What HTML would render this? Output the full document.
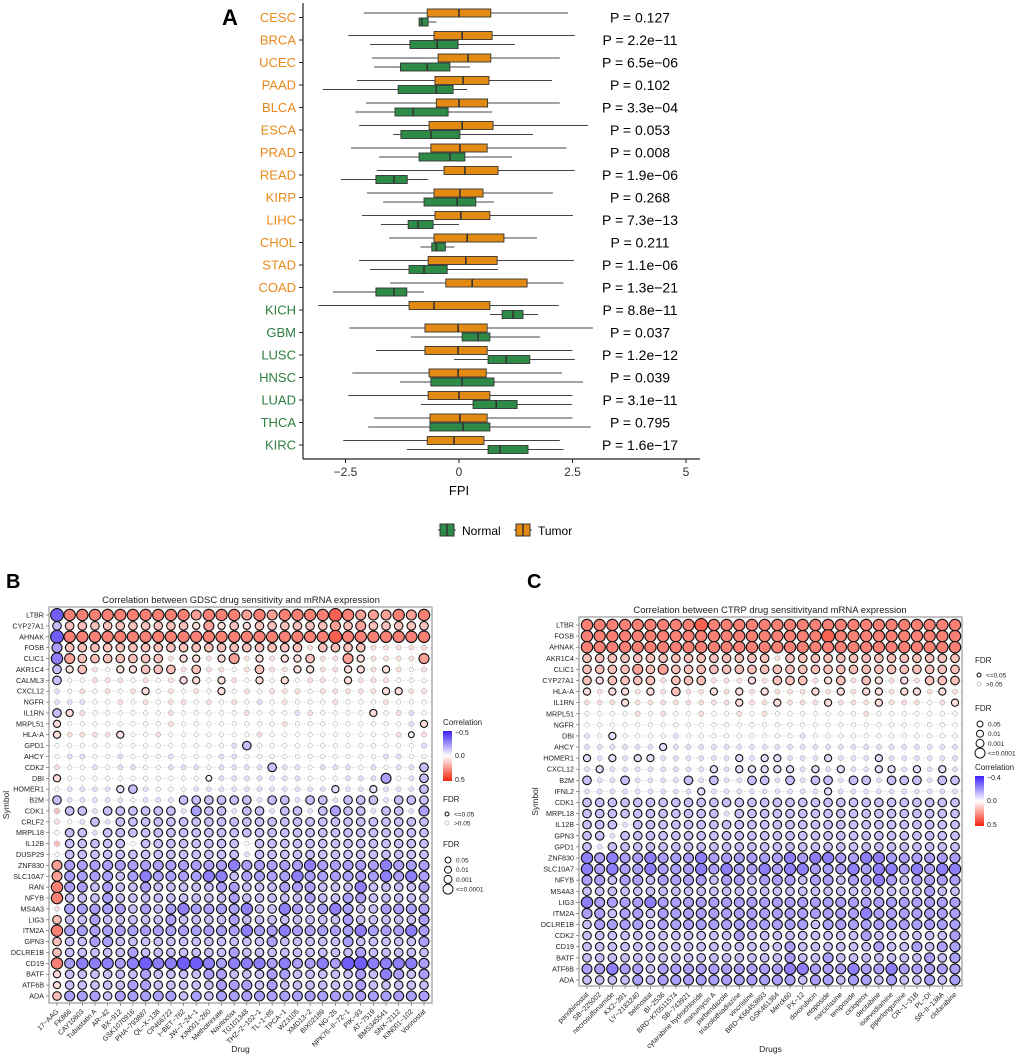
<!DOCTYPE html>
<html><head><meta charset="utf-8"><style>
body{margin:0;background:#fff;}
svg{display:block;font-family:"Liberation Sans",Arial,sans-serif;}
</style></head><body>
<svg id="fig" width="1020" height="1060" viewBox="0 0 1020 1060" xmlns="http://www.w3.org/2000/svg">
<g id="pa"></g>
<g id="pb"></g>
<g id="pc"></g>
</svg>
<script>
// ---------- Panel A data ----------
const cancers=["CESC","BRCA","UCEC","PAAD","BLCA","ESCA","PRAD","READ","KIRP","LIHC","CHOL","STAD","COAD","KICH","GBM","LUSC","HNSC","LUAD","THCA","KIRC"];
const pvals=["P = 0.127","P = 2.2e\u221211","P = 6.5e\u221206","P = 0.102","P = 3.3e\u221204","P = 0.053","P = 0.008","P = 1.9e\u221206","P = 0.268","P = 7.3e\u221213","P = 0.211","P = 1.1e\u221206","P = 1.3e\u221221","P = 8.8e\u221211","P = 0.037","P = 1.2e\u221212","P = 0.039","P = 3.1e\u221211","P = 0.795","P = 1.6e\u221217"];
const tumorStats=[[-2.1,-0.7,0,0.7,2.4],[-2.44,-0.55,0.07,0.73,2.55],[-1.92,-0.46,0.2,0.7,2.22],[-2.25,-0.53,0.09,0.66,2.05],[-2.05,-0.5,0,0.63,2.22],[-2.2,-0.66,0.07,0.75,2.84],[-2.38,-0.62,0.02,0.62,2.37],[-1.81,-0.33,0.13,0.86,2.55],[-2.03,-0.55,0.02,0.53,2.07],[-2.14,-0.53,0.04,0.68,2.51],[-1.54,-0.55,0.18,0.99,1.72],[-2.2,-0.68,0.15,0.84,2.53],[-1.52,-0.29,0.29,1.5,2.3],[-3.1,-1.1,-0.55,0.68,2.2],[-2.42,-0.75,-0.02,0.62,2.95],[-1.83,-0.75,-0.02,0.62,2.5],[-2.35,-0.66,-0.02,0.6,2.27],[-2.44,-0.68,0,0.68,2.5],[-1.87,-0.64,0.02,0.62,2.5],[-2.55,-0.7,-0.11,0.55,2.22]];
const normalStats=[[-0.88,-0.88,-0.82,-0.68,-0.5],[-1.96,-1.08,-0.48,-0.02,1.23],[-1.87,-1.29,-0.7,-0.2,0.24],[-3.0,-1.34,-0.5,-0.13,0.18],[-2.28,-1.41,-1.01,-0.24,0.73],[-1.45,-1.28,-0.62,0.02,1.63],[-1.76,-0.88,-0.2,0.13,1.17],[-2.6,-1.83,-1.43,-1.14,-0.68],[-1.67,-0.77,-0.04,0.37,0.77],[-1.72,-1.12,-0.9,-0.57,0],[-0.85,-0.6,-0.5,-0.3,-0.1],[-1.96,-1.1,-0.77,-0.26,0.86],[-2.78,-1.83,-1.43,-1.15,-0.77],[0.68,0.95,1.19,1.41,1.74],[-1.06,0.07,0.42,0.68,1.78],[-0.11,0.64,1.04,1.56,2.55],[-1.3,-0.62,0.07,0.77,2.73],[-0.84,0.31,0.82,1.28,2.49],[-2.0,-0.64,0.09,0.68,2.9],[-1.15,0.64,0.9,1.52,2.3]];
const xTicks=[-2.5,0,2.5,5];

// ---------- Panel B data ----------
const genesB=["LTBR","CYP27A1","AHNAK","FOSB","CLIC1","AKR1C4","CALML3","CXCL12","NGFR","IL1RN","MRPL51","HLA-A","GPD1","AHCY","CDK2","DBI","HOMER1","B2M","CDK1","CRLF2","MRPL18","IL12B","DUSP29","ZNF830","SLC10A7","RAN","NFYB","MS4A3","LIG3","ITM2A","GPN3","DCLRE1B","CD19","BATF","ATF6B","ADA"];
const drugsB=["17\u2212AAG","FK866","CAY10603","Tubastatin A","AR\u221242","BX\u2212912","GSK1070916","PHA\u2212793887","QL\u2212X\u2212138","CP466722","I\u2212BET\u2212762","JW\u22127\u221224\u22121","KIN001\u2212260","Methotrexate","Navitoclax","TG101348","THZ\u22122\u2212102\u22121","TL\u22121\u221285","TPCA\u22121","WZ3105","XMD13\u22122","BIX02189","NG\u221225","NPK76\u2212II\u221272\u22121","PIK\u221293","AT\u22127519","BMS345541","SNX\u22122112","KIN001\u2212102","Vorinostat"];
// letter a..k = correlation -0.5..0.5; uppercase = FDR<=0.05
const cellsB=[
"AJJJJJJJJJJIJJJIJIJJJJKJIIIJIJ","DHHHHHHHHHHGIGHGHHHHHHIHIHHHHH","AJJJJJJJJJJJJJJJJJJJJJKJJJJJJJ",
"CHHHHHHHHHHHHHHHHHHHgHHHHggggg","BIHHHHHHHgGGgGIgGgGGHggIGggggI","DGHgfGGHHHgHggfgHggGGggGGgGgfg",
"DffgggfgfgGGfGgfGfGfggfGgggfff","efgfgfgGfgfgfGfgfgggfgggggGGgg","eeeffgfgfggfgfgfefgfffgfffgfff",
"DGgffffffgfffffgfffegffffGfgef","GffffffffgffffffffgfffffffffeG","GggggGffgfffffffgffffffffffgFg",
"ffffffffffffffeDfffffffffffffe","feeffefffefffeefffffffffffeeff","gffefeeffeeefeeeeDeefeeefefeeD",
"GfffffffffffFeeeeeeefffeeeCfeD","feeeeEDefffeeeeeeeeeeeEeeEeeeD","DeeeeefeeeDDDDDDeDDeDDeDDDeDDD",
"hDDeDDDDDDeCDDeDDeDDeDCDDeDDeC","gfeDeDDDDDDDDDDDDDDDDDDDDDDDDD","fDDeDDDDDDDDDDDDDDDDDDDDDDDDDD",
"hDDDDDfDDDDDDDDfDDDDDDDDDDDDDD","fDDDDDDDDDDDDDDeDDDDDDDDDDDDDD","ICCCCCCCCCCCCCBCCCCCBCCCCCBCCC",
"ICCCCDCBCCCCBBDCCCCBCCCCCCBCBC","JCCDCDDCDDDDDCCDDDCCCDDDBDDDDC","JDDDCDDDDDDDDDCDDDDDCDDCCDDDDD",
"gCCCCCDCDCBCCCCBDDBCDCBCDDCCCC","HDDCDDDDDCDDDDCDDDDDDDDCDDDDDC","JCCCCCCCCCCCCCCBCCBCCCCCBCCCBC",
"HDDCCDDDDDDDDDDDDCDDDDDCDDDDDC","HDDDDDCDDDDDDDCDDDDDDDDDCDDDDD","JCBBBCBABBAABCBBBCBCCBCAABBBBC",
"GDDDDDDCDDDDCCDDDCCDDDDDCDBCDC","GDDDDDCCDDDDDCCCDCDDDDDDCDDDDD","HCCCDCCCCCDCDCCCCCCCCCCCCCCCCC"];

// ---------- Panel C data ----------
const genesC=["LTBR","FOSB","AHNAK","AKR1C4","CLIC1","CYP27A1","HLA-A","IL1RN","MRPL51","NGFR","DBI","AHCY","HOMER1","CXCL12","B2M","IFNL2","CDK1","MRPL18","IL12B","GPN3","GPD1","ZNF830","SLC10A7","NFYB","MS4A3","LIG3","ITM2A","DCLRE1B","CDK2","CD19","BATF","ATF6B","ADA"];
const drugsC=["panobinostat","SB\u2212225002","necrosulfonamide","KX2\u2212391","LY\u22122183240","belinostat","BI\u22122536","BRD\u2212K70511574","SB\u2212743921","cytarabine hydrochloride","manumycin A","parbendazole","triazolothiadiazine","vincristine","BRD\u2212K66453893","GSK461364","Merck60","PX\u221212","doxorubicin","etoposide","narciclasine","teniposide","ciclopirox","decitabine","isoevodiamine","piperlongumine","CR\u22121\u221231B","PL\u2212DI","SR\u2212II\u2212138A","clofarabine"];
const cellsC=[
"JJJJJJJJJKJJJJJJJJJJJJJJJJJJJJ","JJJJJJJJJJJJJJJJJJJKJJJJJJJJJJ","JJJJJJJJJJJJJJJJJJJJJJJJJJJJJJ",
"HHHHHHHHHHHHHHHgHHHHHHHHHHHHHH","HHHHIHIHHHHHHHHHHHHHHHHHHHHHHH","HGHHHHgHHHgggGgHHHgGHgHGgGgHHH",
"GgGGgGgHggGgGgGgggGgGgGGgGGgGg","gggGggggggggGggGgggGgggGgggfgG","ffffgfgffgffgfgfffffffgfffffff",
"ffffffffffffffffffffffffffffff","efEffffefffffffffeffffffffffff","eeeeeeEeeeeeeeeeeeeeeeeeeeeeee",
"EeEeEEeeeeeeEeEEeeeEeeeEeeeeee","eEeeeeeeeeEeEEEEEeEeEeeEEeEeEe","DeeDeeeeDeDeeDDeDeDDeDDeDDDeDD",
"eeeeeeeeeEeeeeeeeeeEeeeeeeeeee","DDDDDDDDDDDDDDDDDDDDDDDDDDDDDD","DDDDDDDDDDDeDDDDDDDDDDDDDDDDDD",
"DDDeDDDDDDDDDDDDDDDDDDDDDDDDDD","DDeDDDDDDDDDDDDDDDDDDDDDDDDDDD","DeDDDDDDDDDDDDDDDDDDDDDDDDDDDD",
"BCBCCBCCCBCCCCCCBCBBCCBBCCCCCC","BCBCCBCCCBCBCCBCBBCCCBCBBCBCBB","CCDCCDCCCCDCCDCCCDCCDCCBCDCCCC",
"DDDDDDDDDDDDDDDDDDDDDDDDDDDCDD","BCCCCBCCCCCCCCCCCCCCCCCCCCCCCC","CCDCCDCCCCCCCCCCCCCCCCBCCCCCCC",
"DCCCCDCCCCCCCCCCCCDCCCCCCCCCCC","DDDDDDDDDDDDCDDDDDDDDDCDDDDDDC","DDDDDDDDDDDDDDDDCDDDDDDCDDCDCC",
"DDDDDDDDDDDDDDDDCDDCDDDDDDDCDC","CCBCCDCCCCCCCCCCBBCCCBCCBCCCCC","DDDDCDCCCCCCCCCCCDCCDCCDCDDCDC"];

const NS="http://www.w3.org/2000/svg";
function mk(parent,tag,attrs,text){const e=document.createElementNS(NS,tag);for(const k in attrs)e.setAttribute(k,attrs[k]);if(text!==undefined)e.textContent=text;parent.appendChild(e);return e;}

// ---------- Panel A ----------
const pa=document.getElementById('pa');
const xA=v=>459+v*45.4;
const rowA=i=>17.5+i*22.5;
let t=mk(pa,'text',{x:222,y:25,'font-size':22,'font-weight':'bold'},"A");


let ax=mk(pa,'line',{x1:303,y1:3,x2:303,y2:459,stroke:'#222','stroke-width':1.2});


let bx=mk(pa,'line',{x1:303,y1:459,x2:700,y2:459,stroke:'#222','stroke-width':1.2});


function drawBox(s,cy,fill,name){
  const g=mk(pa,'g',{});
  
  
  mk(g,'line',{x1:xA(s[0]),x2:xA(s[1]),y1:cy,y2:cy,stroke:'#444','stroke-width':1});
  mk(g,'line',{x1:xA(s[3]),x2:xA(s[4]),y1:cy,y2:cy,stroke:'#444','stroke-width':1});
  mk(g,'rect',{x:xA(s[1]),y:cy-4,width:Math.max(1,xA(s[3])-xA(s[1])),height:8,fill:fill,stroke:'#333','stroke-width':0.9});
  mk(g,'line',{x1:xA(s[2]),x2:xA(s[2]),y1:cy-4,y2:cy+4,stroke:'#333','stroke-width':1.6});
}
cancers.forEach((c,i)=>{
  const cy=rowA(i);
  const lab=mk(pa,'text',{x:296,y:cy+4.5,'text-anchor':'end','font-size':13,fill:i<13?'#e8891c':'#2e8040'},c);
  
  
  mk(pa,'line',{x1:299,x2:303,y1:cy,y2:cy,stroke:'#222'});
  drawBox(tumorStats[i],cy-4.5,'#e38a12','tumor-box-'+c.toLowerCase());
  drawBox(normalStats[i],cy+4.5,'#2e8b47','normal-box-'+c.toLowerCase());
  const p=mk(pa,'text',{x:640,y:cy+5,'text-anchor':'middle','font-size':14},pvals[i]);
  
  
});
xTicks.forEach(v=>{
  mk(pa,'line',{x1:xA(v),x2:xA(v),y1:459,y2:463,stroke:'#222'});
  const tl=mk(pa,'text',{x:xA(v),y:476,'text-anchor':'middle','font-size':12,fill:'#333'},v===0?"0":String(v).replace('-','\u2212'));
  
  
});
t=mk(pa,'text',{x:459,y:495,'text-anchor':'middle','font-size':13},"FPI");


function legIcon(x,fill,label,name){
  const g=mk(pa,'g',{});
  
  
  mk(g,'line',{x1:x,x2:x+18,y1:530,y2:530,stroke:'#444'});
  mk(g,'rect',{x:x+2,y:524,width:14,height:12,fill:fill,stroke:'#333'});
  mk(g,'line',{x1:x+9,x2:x+9,y1:524,y2:536,stroke:'#333','stroke-width':1.5});
  mk(g,'text',{x:x+24,y:535,'font-size':12},label);
}
legIcon(438,'#2e8b47','Normal','legend-normal');
legIcon(514,'#e38a12','Tumor','legend-tumor');

// ---------- dot plots ----------
function corrColor(c){
  const f=Math.min(1,Math.abs(c)/0.5)*0.72;
  let tgt=c<0?[58,32,245]:[245,35,15];
  const r=Math.round(255+(tgt[0]-255)*f),g=Math.round(255+(tgt[1]-255)*f),b=Math.round(255+(tgt[2]-255)*f);
  return `rgb(${r},${g},${b})`;
}
function dotPlot(root,opt){
  const {genes,drugs,cells,x0,x1,y0,y1,cx0,cx1,ry0,ry1,title,titleX,letter,lx,xtitle,ytitleX}=opt;
  let e=mk(root,'text',{x:lx,y:588,'font-size':20,'font-weight':'bold'},letter);
  
  
  e=mk(root,'text',{x:titleX,y:y0-4,'text-anchor':'middle','font-size':9.5,fill:'#222'},title);
  
  
  const fr=mk(root,'rect',{x:x0,y:y0,width:x1-x0,height:y1-y0,fill:'#fff',stroke:'#999','stroke-width':1.2});
  
  
  const colX=j=>cx0+j*(cx1-cx0)/(drugs.length-1);
  const rowY=i=>ry0+i*(ry1-ry0)/(genes.length-1);
  genes.forEach((g,i)=>mk(root,'line',{x1:x0,x2:x1,y1:rowY(i),y2:rowY(i),stroke:'#ccc','stroke-width':0.6,'stroke-dasharray':'1.5,1.5'}));
  drugs.forEach((d,j)=>mk(root,'line',{x1:colX(j),x2:colX(j),y1:y0,y2:y1,stroke:'#ccc','stroke-width':0.6,'stroke-dasharray':'1.5,1.5'}));
  genes.forEach((g,i)=>{
    const y=rowY(i);
    const l=mk(root,'text',{x:x0-5,y:y+2.5,'text-anchor':'end','font-size':7.2,fill:'#222'},g);
    
    
    mk(root,'line',{x1:x0-3,x2:x0,y1:y,y2:y,stroke:'#555','stroke-width':0.6});
    const row=cells[i]||"";
    for(let j=0;j<drugs.length&&j<row.length;j++){
      const ch=row[j];const sig=ch===ch.toUpperCase();
      const c=(ch.toLowerCase().charCodeAt(0)-102)/10;
      const r=sig?2.9+Math.abs(c)*7:2.2+Math.abs(c)*3;
      const dot=mk(root,'circle',{cx:colX(j),cy:y,r:r,fill:corrColor(c),stroke:sig?'#111':'#bbb','stroke-width':sig?1.1:0.7});
      
      
    }
  });
  drugs.forEach((d,j)=>{
    const x=colX(j);
    mk(root,'line',{x1:x,x2:x,y1:y1,y2:y1+3,stroke:'#555','stroke-width':0.6});
    const l=mk(root,'text',{x:x+2,y:y1+9,'text-anchor':'end','font-size':7,fill:'#222',transform:`rotate(-45 ${x+2} ${y1+9})`},d);
    
    
  });
  e=mk(root,'text',{x:(x0+x1)/2,y:1052,'text-anchor':'middle','font-size':8.5,fill:'#222'},xtitle);
  
  
  const ym=(y0+y1)/2;
  e=mk(root,'text',{x:ytitleX,y:ym,'text-anchor':'middle','font-size':8.5,fill:'#222',transform:`rotate(-90 ${ytitleX} ${ym})`},"Symbol");
  
  
}
function corrLegend(root,x,y,lo,name){
  const g=mk(root,'g',{});
  
  
  mk(g,'text',{x:x,y:y,'font-size':8,fill:'#222'},"Correlation");
  const id='grad'+name;
  const defs=mk(g,'defs',{});
  const lg=mk(defs,'linearGradient',{id:id,x1:0,y1:0,x2:0,y2:1});
  mk(lg,'stop',{offset:'0','stop-color':'#3a20f5'});
  mk(lg,'stop',{offset:'0.5','stop-color':'#ffffff'});
  mk(lg,'stop',{offset:'1','stop-color':'#f5230f'});
  mk(g,'rect',{x:x,y:y+6,width:9,height:50,fill:`url(#${id})`});
  mk(g,'text',{x:x+12,y:y+10,'font-size':7,fill:'#222'},lo);
  mk(g,'text',{x:x+12,y:y+33,'font-size':7,fill:'#222'},"0.0");
  mk(g,'text',{x:x+12,y:y+57,'font-size':7,fill:'#222'},"0.5");
}
function fdrLegend(root,x,y,name){
  const g=mk(root,'g',{});
  
  
  mk(g,'text',{x:x,y:y,'font-size':8,fill:'#222'},"FDR");
  mk(g,'circle',{cx:x+4,cy:y+12,r:2,fill:'#fff',stroke:'#111','stroke-width':1});
  mk(g,'text',{x:x+11,y:y+14.5,'font-size':6.5,fill:'#222'},"<=0.05");
  mk(g,'circle',{cx:x+4,cy:y+21,r:2,fill:'#fff',stroke:'#bbb','stroke-width':0.8});
  mk(g,'text',{x:x+11,y:y+23.5,'font-size':6.5,fill:'#222'},">0.05");
}
function sizeLegend(root,x,y,name){
  const g=mk(root,'g',{});
  
  
  mk(g,'text',{x:x,y:y,'font-size':8,fill:'#222'},"FDR");
  const labs=["0.05","0.01","0.001","<=0.0001"],rs=[3,3.5,4,5];
  labs.forEach((l,k)=>{const cy=y+13+k*9.7;mk(g,'circle',{cx:x+5,cy:cy,r:rs[k],fill:'#fff',stroke:'#111','stroke-width':1});mk(g,'text',{x:x+13,y:cy+2.5,'font-size':6.5,fill:'#222'},l);});
}
const pb=document.getElementById('pb');
dotPlot(pb,{genes:genesB,drugs:drugsB,cells:cellsB,x0:49,x1:432,y0:607,y1:1003,cx0:57,cx1:424,ry0:615,ry1:996,title:"Correlation between GDSC drug sensitivity and mRNA expression",titleX:241,letter:"B",lx:6,xtitle:"Drug",ytitleX:9});
corrLegend(pb,443,725,"\u22120.5",'legend-correlation-b');
fdrLegend(pb,443,802,'legend-fdr-sig-b');
sizeLegend(pb,443,847,'legend-fdr-size-b');
const pc=document.getElementById('pc');
dotPlot(pc,{genes:genesC,drugs:drugsC,cells:cellsC,x0:579,x1:962,y0:617,y1:986,cx0:587,cx1:955,ry0:625,ry1:980,title:"Correlation between CTRP drug sensitivityand mRNA expression",titleX:770,letter:"C",lx:527,xtitle:"Drugs",ytitleX:538});
fdrLegend(pc,975,663,'legend-fdr-sig-c');
sizeLegend(pc,975,711,'legend-fdr-size-c');
corrLegend(pc,975,770,"\u22120.4",'legend-correlation-c');
</script>
</body></html>
